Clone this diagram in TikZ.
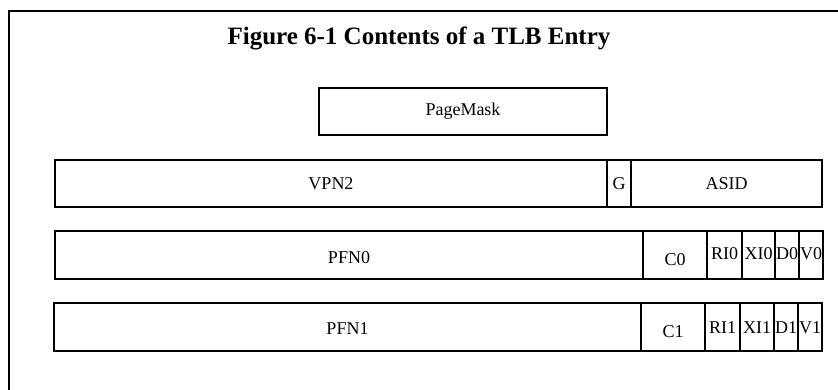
\documentclass[tikz,border=0pt]{standalone}
\usepackage{fontspec}
\setmainfont{Liberation Serif}
\begin{document}
\begin{tikzpicture}[x=1pt,y=-1pt,
  cell/.style={draw=black, line width=1.6pt, inner sep=0pt, minimum height=#1},
  cell/.default=47pt,
  lbl/.style={inner sep=0pt, font=\fontsize{18}{20}\selectfont},
  ttl/.style={inner sep=0pt, font=\fontsize{25}{28}\selectfont\bfseries}]
\useasboundingbox (0,0) rectangle (838,389);
\clip (0,0) rectangle (838,389);
\fill[white] (0,0) rectangle (838,389);
% outer frame
\coordinate (fbl) at (9,400);
\coordinate (ftl) at (9,11);
\coordinate (ftr) at (850,11);
\draw[line width=2pt] (fbl) -- (ftl) -- (ftr);
% title
\node[ttl, anchor=base] (title) at (419,44) {Figure 6-1 Contents of a TLB Entry};
% PageMask
\node[cell, minimum width=288pt] (pm) at (463,111.5) {};
\node[lbl] (pmt) at (pm.center) {PageMask};
% VPN2 row
\node[cell, minimum width=552pt] (vpn) at (331,183.5) {};
\node[cell, minimum width=24pt] (g) at (619,183.5) {};
\node[cell, minimum width=191pt] (asid) at (726.5,183.5) {};
\node[lbl] (vpnt) at (vpn.center) {VPN2};
\node[lbl] (gt) at (g.center) {G};
\node[lbl] (asidt) at (asid.center) {ASID};
% PFN0 row
\node[cell=48pt, minimum width=588pt] (pfn0) at (349,255) {};
\node[cell=48pt, minimum width=64pt] (c0) at (675,255) {};
\node[cell=48pt, minimum width=35pt] (ri0) at (724.5,255) {};
\node[cell=48pt, minimum width=33pt] (xi0) at (758.5,255) {};
\node[cell=48pt, minimum width=24pt] (d0) at (787,255) {};
\node[cell=48pt, minimum width=24pt] (v0) at (811,255) {};
\node[lbl, yshift=-3pt] (pfn0t) at (pfn0.center) {PFN0};
\node[lbl, yshift=-5pt] (c0t) at (c0.center) {C0};
\node[lbl, yshift=1.5pt] (ri0t) at (ri0.center) {RI0};
\node[lbl, yshift=1.5pt] (xi0t) at (xi0.center) {XI0};
\node[lbl, yshift=1.5pt] (d0t) at (d0.center) {D0};
\node[lbl, yshift=1.5pt] (v0t) at (v0.center) {V0};
% PFN1 row
\node[cell=48pt, minimum width=587pt] (pfn1) at (347.5,327) {};
\node[cell=48pt, minimum width=64pt] (c1) at (673,327) {};
\node[cell=48pt, minimum width=35pt] (ri1) at (722.5,327) {};
\node[cell=48pt, minimum width=34pt] (xi1) at (757,327) {};
\node[cell=48pt, minimum width=24pt] (d1) at (786,327) {};
\node[cell=48pt, minimum width=24pt] (v1) at (810,327) {};
\node[lbl, yshift=-2pt] (pfn1t) at (pfn1.center) {PFN1};
\node[lbl, yshift=-4.5pt] (c1t) at (c1.center) {C1};
\node[lbl, yshift=-1pt] (ri1t) at (ri1.center) {RI1};
\node[lbl, yshift=-1pt] (xi1t) at (xi1.center) {XI1};
\node[lbl, yshift=-1pt] (d1t) at (d1.center) {D1};
\node[lbl, yshift=-1pt] (v1t) at (v1.center) {V1};
\end{tikzpicture}
\end{document}
